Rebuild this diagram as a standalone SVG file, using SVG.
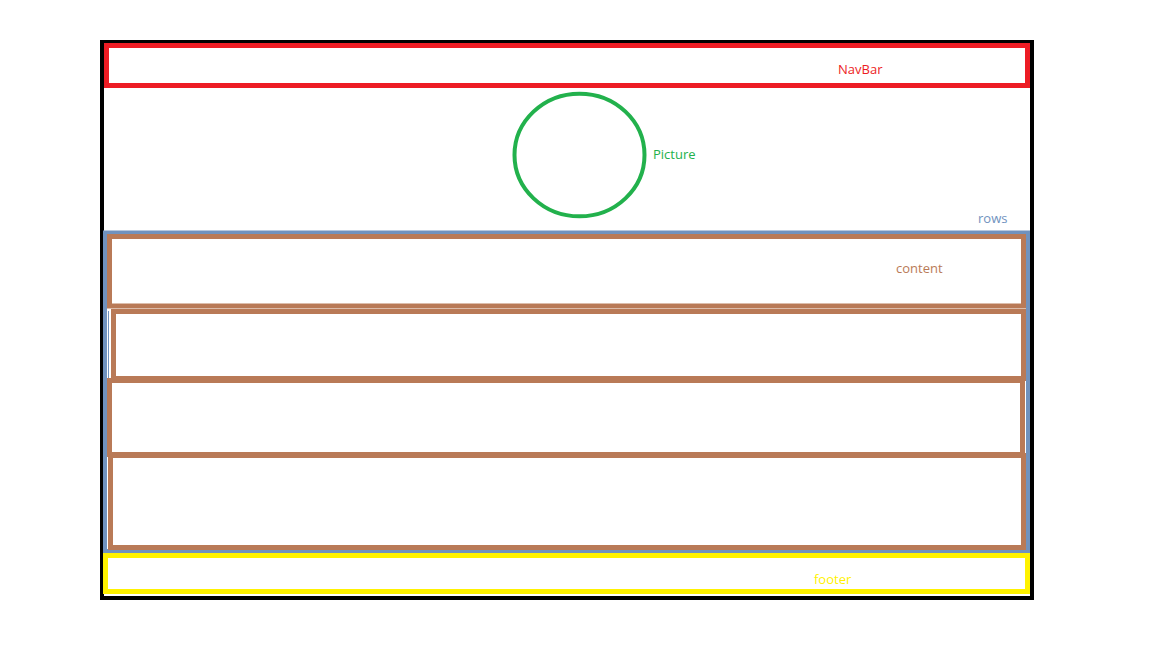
<svg xmlns="http://www.w3.org/2000/svg" width="1152" height="648" viewBox="0 0 1152 648">
<style>
.box{fill:none}
.lbl{font-family:"Open Sans","Liberation Sans",sans-serif;font-size:13px}
.brown{stroke:#b97a57;stroke-width:5}
</style>
<rect width="1152" height="648" fill="#ffffff"/>
<g id="page"><rect class="box" x="102" y="42" width="930" height="556" stroke="#000000" stroke-width="4"/></g>
<g id="navbar"><rect class="box" x="106.5" y="45.5" width="921" height="40" stroke="#ed1c24" stroke-width="5"/>
<text class="lbl" x="838" y="74" fill="#ed1c24">NavBar</text></g>
<g id="picture"><ellipse class="box" cx="579.5" cy="155" rx="65" ry="61.3" stroke="#22b14c" stroke-width="4"/>
<text class="lbl" x="653" y="159" fill="#22b14c">Picture</text></g>
<g id="rows"><rect class="box" x="105" y="232.5" width="923" height="318.5" stroke="#7092be" stroke-width="4"/>
<line x1="108.5" y1="311" x2="108.5" y2="378" stroke="#7092be" stroke-width="1"/>
<text class="lbl" x="978" y="223" fill="#7092be">rows</text></g>
<g id="content1"><rect class="box brown" x="109.5" y="236.5" width="914" height="69.5"/>
<text class="lbl" x="896" y="273" fill="#b97a57">content</text></g>
<g id="content2"><rect class="box brown" x="113.5" y="311.5" width="910" height="67"/></g>
<g id="content3"><rect class="box brown" x="109.5" y="380.5" width="913" height="74"/></g>
<g id="content4"><rect class="box brown" x="110.5" y="455.5" width="913" height="92"/></g>
<g id="footer"><rect class="box" x="105.5" y="555.5" width="922" height="36" stroke="#fff200" stroke-width="5"/>
<text class="lbl" x="814" y="584" fill="#fff200">footer</text></g>
<g id="connectors"></g>
</svg>
